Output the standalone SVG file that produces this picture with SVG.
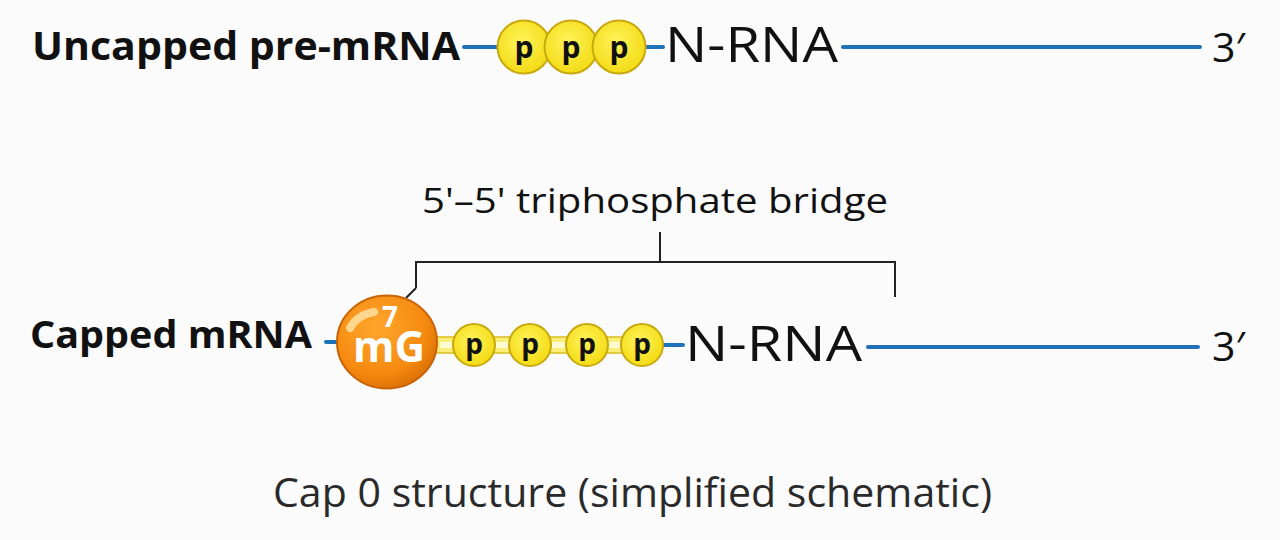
<svg xmlns="http://www.w3.org/2000/svg" width="1280" height="540" viewBox="0 0 1280 540">
<defs>
<style>
.lbl{font-family:"Open Sans","Noto Sans",sans-serif;font-weight:700;fill:#111;}
.rna{font-family:"Open Sans","Noto Sans",sans-serif;font-size:50px;fill:#111;}
.three{font-family:"Open Sans","Noto Sans",sans-serif;font-size:41px;fill:#111;}
.p{font-family:"Open Sans","Noto Sans",sans-serif;font-weight:700;fill:#111;text-anchor:middle;}
.blue{stroke:#1f72b8;stroke-width:4;stroke-linecap:round;fill:none;}
.ph{stroke:#c9a80e;stroke-width:2;}
.br{stroke:#222;stroke-width:2;fill:none;}
</style>
<radialGradient id="og" cx="0.4" cy="0.35" r="0.7">
<stop offset="0" stop-color="#ffa62e"/>
<stop offset="0.7" stop-color="#f58a0f"/>
<stop offset="1" stop-color="#d96d05"/>
</radialGradient>
<radialGradient id="yg" cx="0.45" cy="0.4" r="0.65">
<stop offset="0" stop-color="#fff35a"/>
<stop offset="1" stop-color="#f2d90f"/>
</radialGradient>
</defs>
<rect width="1280" height="540" fill="#fbfbfc"/>

<g id="connectors">
<line class="blue" x1="464" y1="47" x2="498" y2="47"/>
<line class="blue" x1="645" y1="47" x2="663" y2="47"/>
<line class="blue" x1="843" y1="47" x2="1200" y2="47"/>
<line class="blue" x1="326" y1="342" x2="340" y2="342"/>
<line class="blue" x1="662" y1="345" x2="683" y2="345"/>
<line class="blue" x1="868" y1="347" x2="1198" y2="347"/>
<rect x="432" y="337" width="222" height="16" fill="#fbef7a" stroke="#d8bd1c" stroke-width="1.5"/>
<rect x="440" y="342" width="206" height="6" fill="#fffbd0"/>
</g>

<g id="uncapped-label"><text class="lbl" x="32" y="60" font-size="40" textLength="428" lengthAdjust="spacingAndGlyphs">Uncapped pre-mRNA</text></g>

<g id="ppp">
<circle class="ph" cx="524" cy="47" r="26.5" fill="url(#yg)"/>
<circle class="ph" cx="571" cy="47" r="26.5" fill="url(#yg)"/>
<circle class="ph" cx="619" cy="47" r="26.5" fill="url(#yg)"/>
<text class="p" x="524" y="58" font-size="30">p</text>
<text class="p" x="571" y="58" font-size="30">p</text>
<text class="p" x="619" y="58" font-size="30">p</text>
</g>

<g id="nrna-top"><text class="rna" x="665" y="62" textLength="173" lengthAdjust="spacingAndGlyphs">N-RNA</text></g>
<g id="three-top"><text class="three" x="1212" y="62">3′</text></g>

<g id="bridge-label"><text x="422" y="213" font-family="'Open Sans','Noto Sans',sans-serif" font-size="35" fill="#111" textLength="466" lengthAdjust="spacingAndGlyphs">5'–5' triphosphate bridge</text></g>

<g id="bracket">
<path class="br" d="M660 232 V262 M416 288 V262 H895 V297 M416 288 L406 298"/>
</g>

<g id="capped-label"><text class="lbl" x="30" y="348" font-size="37" textLength="282" lengthAdjust="spacingAndGlyphs">Capped mRNA</text></g>

<g id="m7g">
<ellipse cx="387" cy="342" rx="50" ry="46.5" fill="url(#og)" stroke="#c96305" stroke-width="2"/>
<path d="M350 328 Q357 315 374 312" stroke="#ffe0a0" stroke-width="8" stroke-linecap="round" fill="none" opacity="0.85"/>
<text x="353" y="362" font-family="'Open Sans','Noto Sans',sans-serif" font-weight="700" font-size="43" fill="#fff" textLength="72" lengthAdjust="spacingAndGlyphs">mG</text>
<text x="382" y="327" font-family="'Open Sans','Noto Sans',sans-serif" font-weight="700" font-size="28" fill="#fff">7</text>
</g>

<g id="pppp">
<circle class="ph" cx="474" cy="345" r="21" fill="url(#yg)"/>
<circle class="ph" cx="530" cy="345" r="21" fill="url(#yg)"/>
<circle class="ph" cx="587" cy="345" r="21" fill="url(#yg)"/>
<circle class="ph" cx="642" cy="345" r="21" fill="url(#yg)"/>
<text class="p" x="474" y="354" font-size="28">p</text>
<text class="p" x="530" y="354" font-size="28">p</text>
<text class="p" x="587" y="354" font-size="28">p</text>
<text class="p" x="642" y="354" font-size="28">p</text>
</g>

<g id="nrna-bottom"><text class="rna" x="685" y="361" textLength="177" lengthAdjust="spacingAndGlyphs">N-RNA</text></g>
<g id="three-bottom"><text class="three" x="1212" y="361">3′</text></g>

<g id="caption"><text x="273" y="507" font-family="'Open Sans','Noto Sans',sans-serif" font-size="40" fill="#2a2a2a" textLength="719" lengthAdjust="spacingAndGlyphs">Cap 0 structure (simplified schematic)</text></g>
</svg>
